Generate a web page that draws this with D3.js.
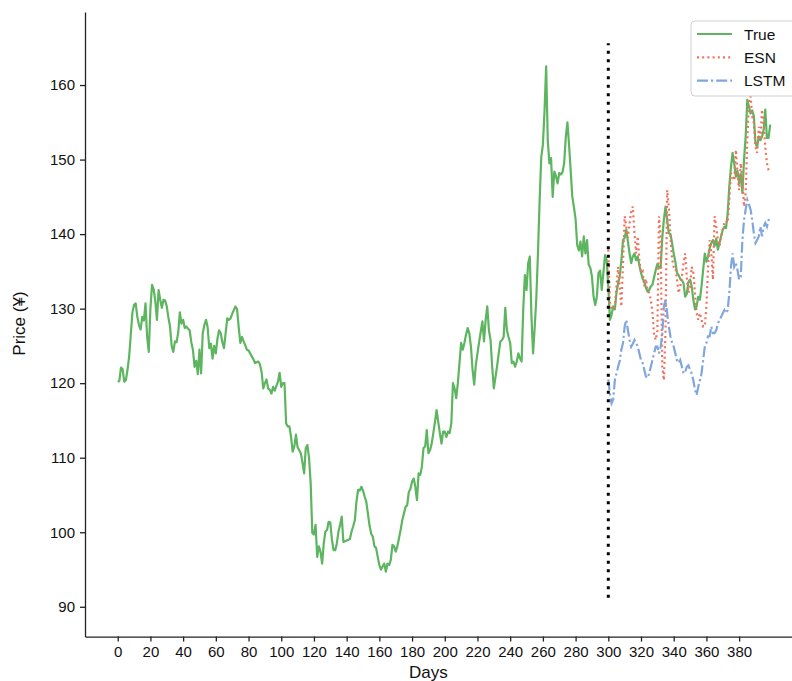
<!DOCTYPE html>
<html><head><meta charset="utf-8">
<script src="https://cdn.jsdelivr.net/npm/d3@7"></script>
<style>body{margin:0;background:#fff} svg{display:block} text{font-family:"Liberation Sans",Arial,sans-serif;fill:#111}</style>
</head><body><svg id="c" width="792" height="681"></svg>
<script>
const trueVals=[
120.2,120.3,122.1,121.9,120.2,120.4,121.8,123.6,126.5,129.5,
130.5,130.7,128.9,127.8,127.2,128.9,128.4,130.7,126.2,124.2,
130.0,133.2,132.6,131.0,128.5,132.5,131.2,130.1,131.2,131.1,
130.3,128.8,127.6,125.0,124.2,125.6,125.5,126.8,129.5,128.0,
128.5,127.4,127.6,127.3,127.1,125.5,124.5,122.2,123.0,121.2,
124.5,121.3,126.7,127.8,128.5,127.5,124.7,125.3,123.3,125.0,
124.0,126.0,127.1,126.7,125.5,124.7,126.7,128.7,128.5,128.7,
129.3,129.8,130.3,129.9,127.5,125.4,126.2,125.6,125.1,124.5,
124.4,124.0,123.6,123.2,122.7,122.8,122.9,122.5,121.5,119.3,
120.0,120.5,119.3,119.1,118.6,119.5,119.0,119.6,120.2,121.4,
119.5,120.0,120.0,114.6,114.2,114.2,112.8,110.8,111.5,113.1,
111.4,111.0,110.6,109.3,107.9,111.3,111.7,110.0,106.6,99.9,
99.7,101.0,96.7,98.1,97.4,95.8,98.5,100.1,100.3,101.4,
101.3,99.0,97.6,97.6,98.5,100.1,101.0,102.1,98.7,98.8,
98.9,99.0,99.1,100.1,100.8,101.6,104.1,105.7,105.6,106.1,
105.6,104.8,104.1,102.5,100.9,99.8,99.4,98.1,97.9,96.7,
95.6,95.0,95.4,95.8,94.7,95.8,95.6,96.3,98.3,98.1,
97.4,98.1,99.2,100.3,101.6,102.5,103.4,103.6,105.4,105.8,
106.8,107.2,106.1,104.3,107.9,107.7,108.8,111.3,111.5,113.7,
110.6,111.0,111.9,113.3,114.8,116.4,114.8,113.3,111.9,113.5,
113.5,112.8,113.5,113.3,114.6,120.0,119.3,118.0,120.0,122.7,
125.4,124.5,125.4,126.5,127.4,126.7,124.9,121.8,119.8,122.5,
124.0,125.5,126.9,128.3,125.6,128.5,130.3,127.1,125.8,122.2,
119.3,120.8,122.3,124.0,125.6,125.8,126.2,130.1,127.1,126.2,
125.4,122.7,122.9,122.2,122.9,124.0,123.3,122.9,130.0,134.5,
132.5,136.1,137.0,129.0,124.0,127.5,131.5,137.5,144.5,150.3,
152.0,156.5,162.5,152.5,149.5,150.2,145.0,148.4,147.8,146.8,
148.2,148.0,148.3,149.5,153.0,155.0,152.0,148.5,145.0,143.6,
142.0,138.5,137.8,139.0,137.0,139.7,137.4,139.2,135.9,135.5,
134.3,131.6,130.5,131.6,134.8,135.1,132.5,134.8,137.2,136.5,
133.0,128.5,129.2,130.3,129.9,132.1,133.4,134.3,136.5,139.2,
139.5,140.6,139.0,137.4,136.1,137.0,137.4,136.5,137.0,135.8,
134.8,134.0,133.6,132.8,132.3,132.5,133.0,133.2,134.2,135.2,
136.0,135.5,135.5,139.5,142.0,143.7,141.9,140.1,140.0,138.8,
137.4,136.3,134.8,134.5,134.0,133.8,133.4,131.6,132.0,133.6,
133.9,133.0,131.2,129.9,130.3,131.6,131.2,133.0,135.2,137.4,
136.3,137.0,138.1,138.8,139.2,138.4,139.4,137.9,138.8,139.7,
140.6,141.0,140.8,142.8,146.4,149.0,150.9,149.5,147.7,148.5,
146.8,148.1,145.5,150.0,153.1,158.0,157.1,156.2,156.6,155.8,
152.2,151.7,153.1,152.6,153.1,154.0,156.7,152.9,152.9,154.7];

const esnVals=[
137.9,130.8,129.9,130.0,130.3,133.0,135.6,133.0,130.3,136.0,
142.4,141.0,139.5,141.5,143.0,143.7,140.1,137.4,139.7,136.5,
134.8,135.0,133.0,134.0,132.5,132.1,131.2,129.5,126.5,125.8,
127.0,142.4,139.7,122.2,120.4,127.1,145.9,143.7,139.7,136.7,
135.6,135.6,133.9,132.1,133.0,134.3,136.1,137.4,134.3,132.1,
133.0,135.6,134.8,132.1,129.4,128.5,129.4,128.5,127.6,127.6,
130.3,135.6,139.2,137.4,133.9,142.4,141.0,139.2,138.4,139.7,
140.6,141.5,141.8,141.5,144.6,148.2,147.7,147.2,151.3,148.2,
145.9,149.5,147.3,143.7,145.5,152.6,157.6,158.5,155.8,154.9,
151.7,150.9,154.4,152.6,156.7,154.9,151.7,149.5,148.6,148.2];

const lstmVals=[
120.5,118.5,117.3,117.8,120.4,121.3,122.2,123.0,124.5,125.4,
127.6,128.5,127.1,125.8,124.9,125.3,125.8,125.4,124.9,124.0,
123.1,122.7,121.8,120.9,120.7,121.3,122.2,123.1,124.0,124.9,
124.9,124.0,124.9,126.5,130.3,131.2,129.4,127.6,126.3,125.4,
124.9,124.0,123.1,122.7,123.1,122.2,121.3,121.5,122.2,122.4,
121.8,121.3,120.4,119.1,118.4,119.5,120.4,121.3,123.1,124.9,
125.4,126.3,126.3,127.6,126.7,126.7,127.1,128.0,128.5,128.9,
129.4,129.8,129.4,129.8,132.1,135.6,137.4,135.6,136.1,135.2,
133.9,134.3,139.2,141.9,143.3,144.6,144.0,143.3,141.9,140.1,
138.8,139.2,139.7,141.0,139.7,141.0,141.5,141.0,141.9,142.0];

const testStartDay=300;
const splitLineRange=[91.2,165.6];
const xTicks=[0,20,40,60,80,100,120,140,160,180,200,220,240,260,280,300,320,340,360,380];
const yTicks=[90,100,110,120,130,140,150,160];
const seriesNames=["True","ESN","LSTM"];
const seriesColors=["#5db55f","#f2705e","#7fa6dd"];

const svg=d3.select("#c");
const x=d3.scaleLinear().domain([-20,419]).range([85,802.9]);
const y=d3.scaleLinear().domain([86,169.8]).range([636.6,12]);

const trueData=trueVals.map((v,i)=>[i,v]);
const esnData=esnVals.map((v,i)=>[testStartDay+i,v]);
const lstmData=lstmVals.map((v,i)=>[testStartDay+i,v]);
const line=d3.line().x(d=>x(d[0])).y(d=>y(d[1]));

const styles=[
 {w:2.2,dash:null},
 {w:2.2,dash:"2,3.2"},
 {w:2.2,dash:"11,3,2.2,3"}
];

svg.append("path").datum(trueData).attr("d",line).attr("fill","none")
 .attr("stroke",seriesColors[0]).attr("stroke-width",styles[0].w).attr("stroke-linejoin","round");
svg.append("path").datum(esnData).attr("d",line).attr("fill","none")
 .attr("stroke",seriesColors[1]).attr("stroke-width",styles[1].w).attr("stroke-dasharray",styles[1].dash);
svg.append("path").datum(lstmData).attr("d",line).attr("fill","none")
 .attr("stroke",seriesColors[2]).attr("stroke-width",styles[2].w).attr("stroke-dasharray",styles[2].dash);

svg.append("path").datum(splitLineRange.map(v=>[testStartDay,v])).attr("d",line)
 .attr("fill","none").attr("stroke","#000").attr("stroke-width",3).attr("stroke-dasharray","3,5.5");

const xAxis=svg.append("g").attr("transform","translate(0,636.6)")
 .call(d3.axisBottom(x).tickValues(xTicks).tickSize(5).tickSizeOuter(0).tickPadding(5));
const yAxis=svg.append("g").attr("transform","translate(85,0)")
 .call(d3.axisLeft(y).tickValues(yTicks).tickSize(5).tickSizeOuter(0).tickPadding(5));
[xAxis,yAxis].forEach(g=>{
 g.selectAll("path,line").attr("stroke","#222").attr("stroke-width",1.3);
 g.selectAll("text").attr("font-family","Liberation Sans, Arial, sans-serif").attr("font-size",15).attr("fill","#111");
});

svg.append("text").attr("x",x(190)).attr("y",678).attr("text-anchor","middle")
 .attr("font-size",17).text("Days");
svg.append("text").attr("transform","translate(25,"+y(128)+") rotate(-90)").attr("text-anchor","middle")
 .attr("font-size",17).text("Price (¥)");

// legend
const lg=svg.append("g");
lg.append("rect").attr("x",691).attr("y",21).attr("width",120).attr("height",75).attr("rx",4)
 .attr("fill","#fff").attr("fill-opacity",0.85).attr("stroke","#d0d0d0").attr("stroke-width",1);
seriesNames.forEach((n,i)=>{
 const yy=34+i*23.3;
 lg.append("line").attr("x1",697).attr("x2",732).attr("y1",yy).attr("y2",yy)
  .attr("stroke",seriesColors[i]).attr("stroke-width",styles[i].w).attr("stroke-dasharray",styles[i].dash);
 lg.append("text").attr("x",744).attr("y",yy+5.5).attr("font-size",15.5).text(n);
});
</script></body></html>
